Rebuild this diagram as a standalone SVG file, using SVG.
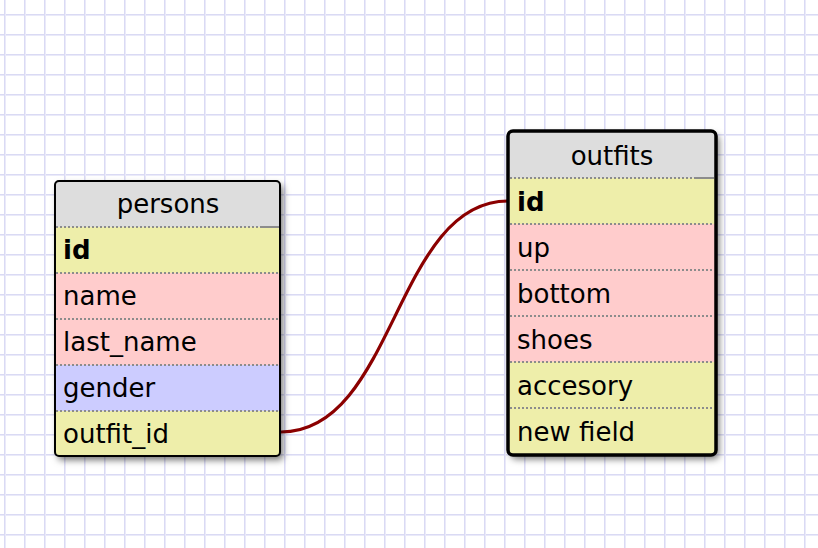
<svg xmlns="http://www.w3.org/2000/svg" width="818" height="548" viewBox="0 0 818 548">
  <defs>
    <pattern id="grid" x="4" y="14" width="20" height="20" patternUnits="userSpaceOnUse">
      <rect x="0" y="0" width="20" height="20" fill="#ffffff"/>
      <rect x="0" y="0" width="20" height="1" fill="#dadaf4"/>
      <rect x="0" y="1" width="20" height="1" fill="#eaeaf9"/>
      <rect x="0" y="0" width="1" height="20" fill="#dadaf4"/>
      <rect x="1" y="0" width="1" height="20" fill="#eaeaf9"/>
    </pattern>
    <filter id="shadow" x="-10%" y="-10%" width="130%" height="130%">
      <feDropShadow dx="3" dy="4" stdDeviation="3.5" flood-color="#000" flood-opacity="0.55"/>
    </filter>
    <clipPath id="clip-persons"><rect x="55" y="181" width="225" height="275" rx="4"/></clipPath>
    <clipPath id="clip-outfits"><rect x="508" y="131" width="208" height="324" rx="5"/></clipPath>
  </defs>
  <style>
    text { font-family: "DejaVu Sans", Verdana, sans-serif; font-size: 26px; fill: #000; }
    .title { text-anchor: middle; }
    .pk { font-weight: bold; }
    .hdr { fill: #dddddd; }
    .num { fill: #eeeeaa; }
    .str { fill: #ffcccc; }
    .dt { fill: #ccccff; }
    .sep { stroke: #8c8c8c; stroke-width: 2; stroke-dasharray: 2 2; fill: none; }
    .sepend { stroke: #8c8c8c; stroke-width: 2; fill: none; }
    .frame { fill: none; stroke: #000; }
    .rel { fill: none; stroke: #8b0000; stroke-width: 3.2; }
  </style>

  <rect x="0" y="0" width="818" height="548" fill="url(#grid)"/>

  <!-- relation persons.outfit_id -> outfits.id -->
  <g id="connectors">
    <path class="rel" d="M281,432 C395,432 395,201 508,201"/>
  </g>

  <!-- table: persons -->
  <g id="persons">
    <rect x="55" y="181" width="225" height="275" rx="4" fill="#ddd" filter="url(#shadow)"/>
    <g clip-path="url(#clip-persons)">
      <rect class="hdr" x="55" y="181" width="225" height="46"/>
      <rect class="num" x="55" y="227" width="225" height="46"/>
      <rect class="str" x="55" y="273" width="225" height="46"/>
      <rect class="str" x="55" y="319" width="225" height="46"/>
      <rect class="dt" x="55" y="365" width="225" height="46"/>
      <rect class="num" x="55" y="411" width="225" height="45"/>
    </g>
    <path class="sep" d="M56,227H260 M56,273H280 M56,319H280 M56,365H280 M56,411H280"/>
    <path class="sepend" d="M260,227H280"/>
    <rect class="frame" x="55" y="181" width="225" height="275" rx="4" stroke-width="2"/>
    <text class="title" x="168" y="213">persons</text>
    <text class="pk" x="63" y="259">id</text>
    <text x="63" y="305">name</text>
    <text x="63" y="351">last_name</text>
    <text x="63" y="397">gender</text>
    <text x="63" y="443">outfit_id</text>
  </g>

  <!-- table: outfits (selected, heavier frame) -->
  <g id="outfits">
    <rect x="508" y="131" width="208" height="324" rx="5" fill="#ddd" filter="url(#shadow)"/>
    <g clip-path="url(#clip-outfits)">
      <rect class="hdr" x="508" y="131" width="208" height="47"/>
      <rect class="num" x="508" y="178" width="208" height="46"/>
      <rect class="str" x="508" y="224" width="208" height="46"/>
      <rect class="str" x="508" y="270" width="208" height="46"/>
      <rect class="str" x="508" y="316" width="208" height="46"/>
      <rect class="num" x="508" y="362" width="208" height="46"/>
      <rect class="num" x="508" y="408" width="208" height="47"/>
    </g>
    <path class="sep" d="M510,178H694 M510,224H714 M510,270H714 M510,316H714 M510,362H714 M510,408H714"/>
    <path class="sepend" d="M694,178H714"/>
    <rect class="frame" x="508" y="131" width="208" height="324" rx="5" stroke-width="3.5"/>
    <text class="title" x="612" y="165">outfits</text>
    <text class="pk" x="517" y="211">id</text>
    <text x="517" y="257">up</text>
    <text x="517" y="303">bottom</text>
    <text x="517" y="349">shoes</text>
    <text x="517" y="395">accesory</text>
    <text x="517" y="441">new field</text>
  </g>
</svg>
